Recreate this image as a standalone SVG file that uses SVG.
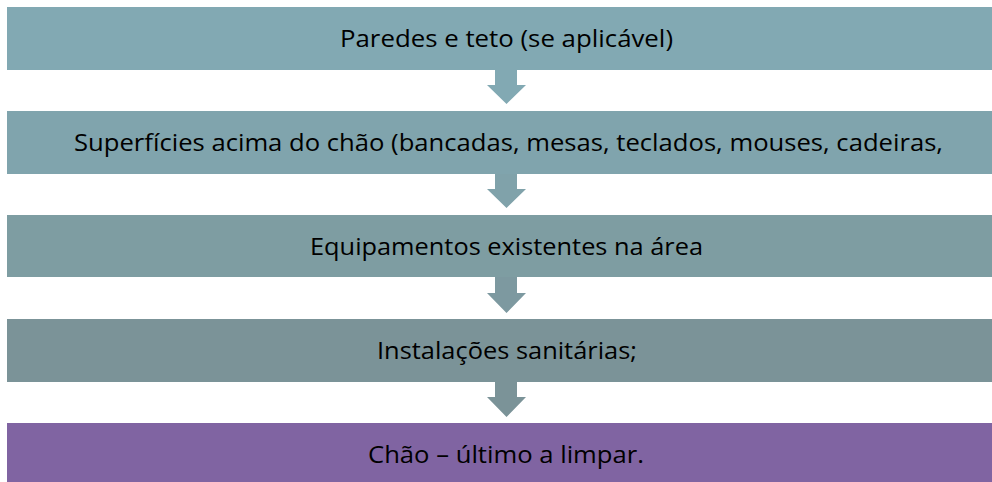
<svg xmlns="http://www.w3.org/2000/svg" width="992" height="482" viewBox="0 0 992 482">
<style>
text{font-family:"Open Sans","Liberation Sans",sans-serif;font-size:23px;fill:#000;}
</style>
<rect width="992" height="482" fill="#fff"/>
<g id="node1"><rect x="7" y="7" width="1000" height="63" fill="#82A9B3"/><text x="340" y="47" textLength="333" lengthAdjust="spacingAndGlyphs">Paredes e teto (se aplicável)</text></g>
<g id="node2"><rect x="7" y="111" width="1000" height="63" fill="#80A4AD"/><text x="74" y="151" textLength="869" lengthAdjust="spacingAndGlyphs">Superfícies acima do chão (bancadas, mesas, teclados, mouses, cadeiras,</text></g>
<g id="node3"><rect x="7" y="215" width="1000" height="62" fill="#7E9DA2"/><text x="310" y="255" textLength="393" lengthAdjust="spacingAndGlyphs">Equipamentos existentes na área</text></g>
<g id="node4"><rect x="7" y="319" width="1000" height="63" fill="#7B9398"/><text x="377" y="359" textLength="260" lengthAdjust="spacingAndGlyphs">Instalações sanitárias;</text></g>
<g id="node5"><rect x="7" y="423" width="1000" height="63" fill="#8064A2"/><text x="368" y="463" textLength="276" lengthAdjust="spacingAndGlyphs">Chão – último a limpar.</text></g>
<g id="connectors">
<path d="M495 70H517V85H526L506.5 104L487 85H495Z" fill="#82A9B3"/>
<path d="M495 174H517V189H526L506.5 208L487 189H495Z" fill="#80A2AA"/>
<path d="M495 277H517V293H526L506.5 313L487 293H495Z" fill="#7D99A0"/>
<path d="M495 382H517V397H526L506.5 417L487 397H495Z" fill="#7B9398"/>
</g>
</svg>
